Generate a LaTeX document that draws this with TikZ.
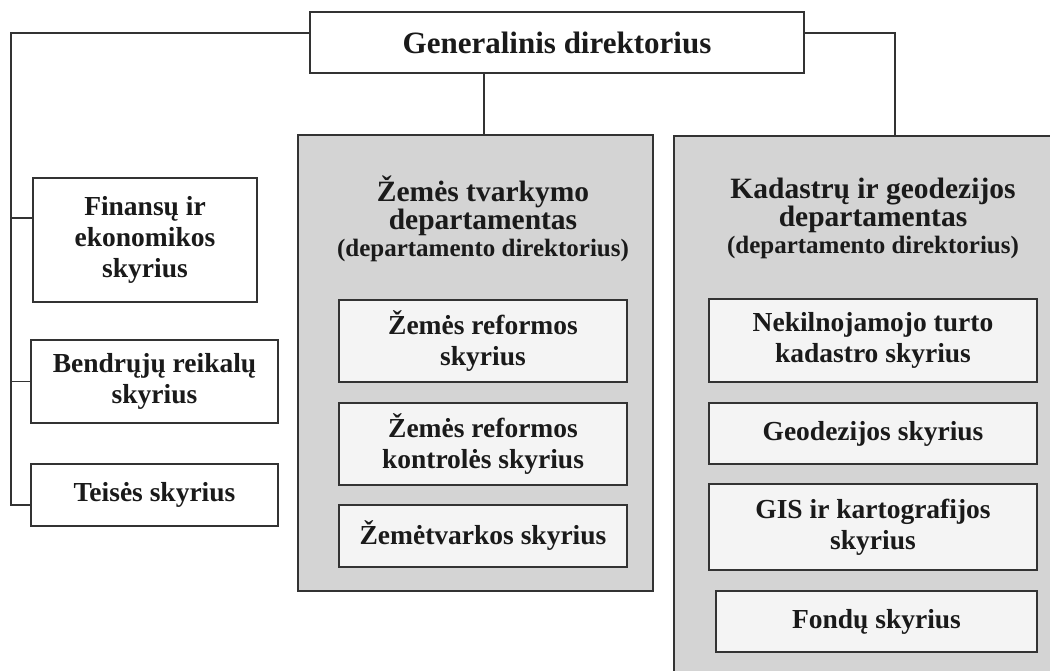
\documentclass[tikz,border=0pt]{standalone}
\usepackage{fontspec}
\setmainfont{Liberation Serif}
\usetikzlibrary{calc}
\definecolor{deptgray}{HTML}{D4D4D4}
\definecolor{unitgray}{HTML}{F4F4F4}
\definecolor{edge}{HTML}{333333}
\definecolor{ink}{HTML}{1A1A1A}

\begin{document}
\begin{tikzpicture}[x=1pt,y=-1pt,
    box/.style={draw=edge,line width=1.3pt,fill=white,inner sep=0pt,align=center,
      text=ink,font=\bfseries\fontsize{27.5}{31}\selectfont},
    unit/.style={box,fill=unitgray},
    dept/.style={draw=edge,line width=1.3pt,fill=deptgray,inner sep=0pt},
    head/.style={align=center,text=ink,inner sep=0pt,
      font=\bfseries\fontsize{29.5}{28}\selectfont},
    link/.style={draw=edge,line width=1.3pt}]
  \clip (0,0) rectangle (1050,670);
  \fill[white] (0,0) rectangle (1050,670);

  % top
  \node[box,minimum width=494pt,minimum height=61pt,
    font=\bfseries\fontsize{31}{34}\selectfont] (gen) at (557,42.5) {Generalinis direktorius};

  % left units
  \node[box,minimum width=224pt,minimum height=124pt] (fin) at (145,240) {Finansų ir\\ekonomikos\\skyrius};
  \node[box,minimum width=247pt,minimum height=83pt] (ben) at (154.5,381.5) {Bendrųjų reikalų\\skyrius};
  \node[box,minimum width=247pt,minimum height=62pt] (tei) at (154.5,495) {Teisės skyrius};

  % departments
  \node[dept,minimum width=355pt,minimum height=456pt] (zem) at (475.5,363) {};
  \node[dept,minimum width=398pt,minimum height=564pt] (kad) at (873,418) {};
  \node[head] (zemhead) at (483,219) {Žemės tvarkymo\\departamentas\\[-1pt]
    {\fontsize{25}{28}\selectfont(departamento direktorius)}};
  \node[head] (kadhead) at (873,218) {Kadastrų ir geodezijos\\departamentas\\[-1pt]
    {\fontsize{25}{28}\selectfont(departamento direktorius)}};

  \node[unit,minimum width=288pt,minimum height=82pt] (zr1) at (483,341) {Žemės reformos\\skyrius};
  \node[unit,minimum width=288pt,minimum height=82pt] (zr2) at (483,444) {Žemės reformos\\kontrolės skyrius};
  \node[unit,minimum width=288pt,minimum height=62pt] (zr3) at (483,536) {Žemėtvarkos skyrius};

  \node[unit,minimum width=328pt,minimum height=83pt] (kd1) at (873,340.5) {Nekilnojamojo turto\\kadastro skyrius};
  \node[unit,minimum width=328pt,minimum height=61pt] (kd2) at (873,433.5) {Geodezijos skyrius};
  \node[unit,minimum width=328pt,minimum height=86pt] (kd3) at (873,527) {GIS ir kartografijos\\skyrius};
  \node[unit,minimum width=321pt,minimum height=61pt] (kd4) at (876.5,621.5) {Fondų skyrius};

  % links
  \coordinate (trunk) at (11,33);
  \coordinate (zemtap) at ([xshift=8.5pt]zem.north);
  \draw[link] ([yshift=9.5pt]gen.west) -- (trunk) |- ([yshift=-10pt]tei.west);
  \draw[link] (trunk) |- ([yshift=22pt]fin.west);
  \draw[link] (trunk) |- (ben.west);
  \draw[link] ([yshift=9.5pt]gen.east) -| ([xshift=22pt]kad.north);
  \draw[link] (zemtap) -- (zemtap |- gen.south);
\end{tikzpicture}
\end{document}
